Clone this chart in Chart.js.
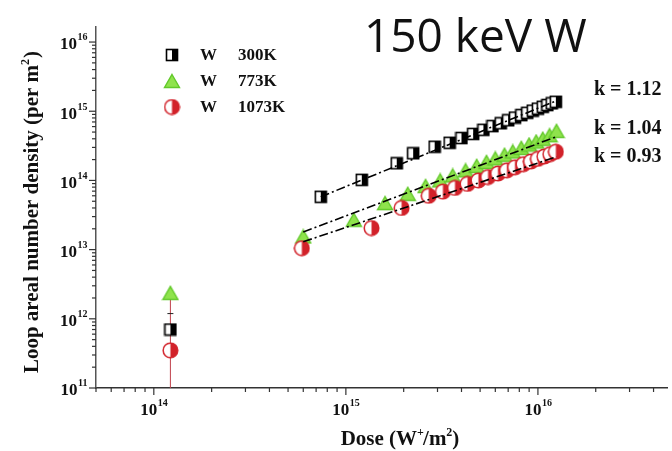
<!DOCTYPE html>
<html>
<head>
<meta charset="utf-8">
<script src="https://cdn.jsdelivr.net/npm/chart.js@4/dist/chart.umd.min.js"></script>
<style>
  body { margin: 0; background: #fff; }
  canvas { display: block; }
</style>
</head>
<body>
<canvas id="chart" width="672" height="451"></canvas>
<script>
// Данные (доза W+/m2 -> плотность петель per m2)
const dose300  = [1.22e14, 7.4e14, 1.21e15, 1.84e15, 2.24e15, 2.9e15, 3.47e15, 4.0e15, 4.6e15, 5.2e15, 5.8e15, 6.4e15, 7.0e15, 7.6e15, 8.2e15, 8.8e15, 9.4e15, 1.0e16, 1.06e16, 1.12e16, 1.18e16, 1.24e16];
const dens300  = [7.0e11, 5.8e13, 1.02e14, 1.77e14, 2.47e14, 3.07e14, 3.5e14, 4.1e14, 4.7e14, 5.4e14, 6.1e14, 6.7e14, 7.4e14, 8.1e14, 8.8e14, 9.5e14, 1.02e15, 1.09e15, 1.16e15, 1.23e15, 1.3e15, 1.37e15];
const dose773  = [1.22e14, 6.0e14, 1.1e15, 1.6e15, 2.1e15, 2.6e15, 3.1e15, 3.6e15, 4.2e15, 4.8e15, 5.4e15, 6.0e15, 6.7e15, 7.4e15, 8.2e15, 9.0e15, 9.8e15, 1.06e16, 1.15e16, 1.25e16];
const dens773  = [2.37e12, 1.55e13, 2.7e13, 4.7e13, 6.4e13, 8.3e13, 1.0e14, 1.18e14, 1.4e14, 1.62e14, 1.85e14, 2.08e14, 2.35e14, 2.62e14, 2.95e14, 3.3e14, 3.65e14, 4.0e14, 4.5e14, 5.2e14];
const dose1073 = [1.22e14, 5.9e14, 1.36e15, 1.95e15, 2.7e15, 3.2e15, 3.7e15, 4.3e15, 4.9e15, 5.5e15, 6.2e15, 6.9e15, 7.6e15, 8.4e15, 9.2e15, 1.0e16, 1.08e16, 1.16e16, 1.24e16];
const dens1073 = [3.5e11, 1.05e13, 2.05e13, 4.0e13, 6.0e13, 6.9e13, 7.8e13, 8.9e13, 1.0e14, 1.12e14, 1.26e14, 1.4e14, 1.55e14, 1.72e14, 1.88e14, 2.05e14, 2.22e14, 2.4e14, 2.6e14];

// Линии аппроксимации (k = наклон)
const fitDose300 = [7.4e14, 1.25e16],  fitDens300 = [5.8e13, 1.42e15];
const fitDose773 = [6.0e14, 1.25e16],  fitDens773 = [1.8e13, 4.3e14];
const fitDose1073 = [6.0e14, 1.25e16], fitDens1073 = [1.3e13, 2.2e14];
const slopes = ['k = 1.12', 'k = 1.04', 'k = 0.93'];

// Планка погрешности у первой точки
const errDose = [1.22e14, 1.22e14], errDens = [1e11, 2.8e12];
const capDose = [1.22e14], capDens = [1.19e12];

const legendLabels = ['300K', '773K', '1073K'];
const xDecades = [14, 15, 16];
const yDecades = [11, 12, 13, 14, 15, 16];

const GREEN = '#8fe34c', GREEN_EDGE = '#62c92a', RED = '#d2222a';

function pts(xs, ys) { return xs.map((x, i) => ({ x: x, y: ys[i] })); }

// Маркеры
function halfSquare() {
  const c = document.createElement('canvas'); c.width = 14; c.height = 14;
  const g = c.getContext('2d');
  g.fillStyle = '#fff'; g.fillRect(1, 1, 12, 12);
  g.fillStyle = '#000'; g.fillRect(7, 1, 6, 12);
  g.strokeStyle = '#000'; g.lineWidth = 1.6; g.strokeRect(1.5, 1.5, 11, 11);
  return c;
}
function triangle() {
  const c = document.createElement('canvas'); c.width = 18; c.height = 16;
  const g = c.getContext('2d');
  g.beginPath(); g.moveTo(9, 1.5); g.lineTo(16.5, 14.5); g.lineTo(1.5, 14.5); g.closePath();
  g.fillStyle = GREEN; g.fill();
  g.strokeStyle = GREEN_EDGE; g.lineWidth = 1.4; g.stroke();
  return c;
}
function halfCircle() {
  const c = document.createElement('canvas'); c.width = 17; c.height = 17;
  const g = c.getContext('2d');
  g.beginPath(); g.arc(8.5, 8.5, 7.3, 0, Math.PI * 2); g.fillStyle = '#fff'; g.fill();
  g.beginPath(); g.arc(8.5, 8.5, 7.3, -Math.PI / 2, Math.PI / 2); g.closePath(); g.fillStyle = RED; g.fill();
  g.beginPath(); g.arc(8.5, 8.5, 7.3, 0, Math.PI * 2); g.strokeStyle = RED; g.lineWidth = 1.5; g.stroke();
  return c;
}
const mSquare = halfSquare(), mTri = triangle(), mCirc = halfCircle();

const SERIF = '"Liberation Serif", "Times New Roman", serif';

function powText(ctx, x, y, exp, size, align) {
  // "10" + надстрочный показатель
  ctx.font = 'bold ' + size + 'px ' + SERIF;
  const w1 = ctx.measureText('10').width;
  ctx.font = 'bold ' + Math.round(size * 0.6) + 'px ' + SERIF;
  const w2 = ctx.measureText(String(exp)).width;
  let x0 = align === 'right' ? x - w1 - w2 : x - (w1 + w2) / 2;
  ctx.textAlign = 'left';
  ctx.textBaseline = 'middle';
  ctx.font = 'bold ' + size + 'px ' + SERIF;
  ctx.fillText('10', x0, y);
  ctx.font = 'bold ' + Math.round(size * 0.6) + 'px ' + SERIF;
  ctx.fillText(String(exp), x0 + w1 + 0.5, y - size * 0.42);
}

const decor = {
  id: 'decor',
  afterDraw(chart) {
    const ctx = chart.ctx, xs = chart.scales.x, ys = chart.scales.y;
    const a = chart.chartArea;
    ctx.save();
    ctx.strokeStyle = '#333'; ctx.lineWidth = 1.2; ctx.fillStyle = '#111';
    // Деления осей
    for (let e = 13; e <= 17; e++) {
      for (let m = 1; m <= 9; m++) {
        const v = m * Math.pow(10, e);
        if (v >= xs.min && v <= xs.max) {
          const px = xs.getPixelForValue(v), len = m === 1 ? 7 : 4;
          ctx.beginPath(); ctx.moveTo(px, a.bottom); ctx.lineTo(px, a.bottom + len); ctx.stroke();
        }
      }
    }
    for (let e = 11; e <= 16; e++) {
      for (let m = 1; m <= 9; m++) {
        const v = m * Math.pow(10, e);
        if (v >= ys.min && v <= ys.max) {
          const py = ys.getPixelForValue(v), len = m === 1 ? 7 : 4;
          ctx.beginPath(); ctx.moveTo(a.left, py); ctx.lineTo(a.left - len, py); ctx.stroke();
        }
      }
    }
    // Подписи делений
    xDecades.forEach(e => powText(ctx, xs.getPixelForValue(Math.pow(10, e)), a.bottom + 23, e, 17, 'center'));
    yDecades.forEach(e => powText(ctx, a.left - 9, ys.getPixelForValue(Math.pow(10, e)) + 3, e, 17, 'right'));

    // Подписи осей
    ctx.textBaseline = 'alphabetic';
    ctx.font = 'bold 21px ' + SERIF;
    const t1 = 'Dose (W', t2 = '/m', t3 = ')';
    const w1 = ctx.measureText(t1).width, w2 = ctx.measureText(t2).width, w3 = ctx.measureText(t3).width;
    let xx = 400 - (w1 + w2 + w3 + 12) / 2, yy = 445;
    ctx.textAlign = 'left';
    ctx.fillText(t1, xx, yy); xx += w1;
    ctx.font = 'bold 12px ' + SERIF; ctx.fillText('+', xx, yy - 9); xx += 6;
    ctx.font = 'bold 21px ' + SERIF; ctx.fillText(t2, xx, yy); xx += w2;
    ctx.font = 'bold 12px ' + SERIF; ctx.fillText('2', xx, yy - 9); xx += 6;
    ctx.font = 'bold 21px ' + SERIF; ctx.fillText(t3, xx, yy);

    ctx.save();
    ctx.translate(38, 212); ctx.rotate(-Math.PI / 2);
    ctx.font = 'bold 21px ' + SERIF;
    const y1 = 'Loop areal number density (per m', y3 = ')';
    const yw1 = ctx.measureText(y1).width, yw3 = ctx.measureText(y3).width;
    let yx = -(yw1 + yw3 + 7) / 2;
    ctx.fillText(y1, yx, 0); yx += yw1;
    ctx.font = 'bold 12px ' + SERIF; ctx.fillText('2', yx, -9); yx += 7;
    ctx.font = 'bold 21px ' + SERIF; ctx.fillText(y3, yx, 0);
    ctx.restore();

    // Легенда
    const marks = [mSquare, mTri, mCirc], rows = [55, 81, 107];
    ctx.font = 'bold 17px ' + SERIF; ctx.textBaseline = 'middle';
    rows.forEach((ry, i) => {
      const m = marks[i];
      ctx.drawImage(m, 172 - m.width / 2, ry - m.height / 2);
      ctx.fillText('W', 200, ry + 1);
      ctx.fillText(legendLabels[i], 238, ry + 1);
    });

    // Наклоны
    ctx.font = 'bold 20px ' + SERIF;
    [90, 129, 157].forEach((ry, i) => ctx.fillText(slopes[i], 594, ry));

    // Заголовок
    ctx.font = '46px "Open Sans", sans-serif';
    ctx.textBaseline = 'alphabetic';
    ctx.fillText('150 keV W', 364, 52);
    ctx.restore();
  }
};

const dashDot = [9, 3, 2, 3];

new Chart(document.getElementById('chart'), {
  type: 'scatter',
  data: {
    datasets: [
      { data: pts(fitDose300, fitDens300), showLine: true, borderColor: '#000', borderWidth: 1.6, borderDash: dashDot, pointRadius: 0 },
      { data: pts(fitDose773, fitDens773), showLine: true, borderColor: '#000', borderWidth: 1.6, borderDash: dashDot, pointRadius: 0 },
      { data: pts(fitDose1073, fitDens1073), showLine: true, borderColor: '#000', borderWidth: 1.6, borderDash: dashDot, pointRadius: 0 },
      { data: pts(dose300, dens300), pointStyle: mSquare },
      { data: pts(dose1073, dens1073), pointStyle: mCirc },
      { data: pts(dose773, dens773), pointStyle: mTri },
      { data: pts(capDose, capDens), pointStyle: 'line', pointRadius: 3, borderColor: '#222', borderWidth: 1 },
      { data: pts(errDose, errDens), showLine: true, borderColor: '#c0404a', borderWidth: 1, pointRadius: 0 }
    ]
  },
  options: {
    responsive: false,
    animation: false,
    layout: { padding: { left: 96, right: 0, top: 27, bottom: 63 } },
    plugins: { legend: { display: false }, tooltip: { enabled: false } },
    scales: {
      x: {
        type: 'logarithmic', min: 5e13, max: 4.7e16,
        ticks: { display: false },
        grid: { display: false, drawTicks: false },
        border: { display: true, color: '#333', width: 1.5 }
      },
      y: {
        type: 'logarithmic', min: 1e11, max: 1.65e16,
        ticks: { display: false },
        grid: { display: false, drawTicks: false },
        border: { display: true, color: '#555', width: 1.5 }
      }
    }
  },
  plugins: [decor]
});
</script>
</body>
</html>
